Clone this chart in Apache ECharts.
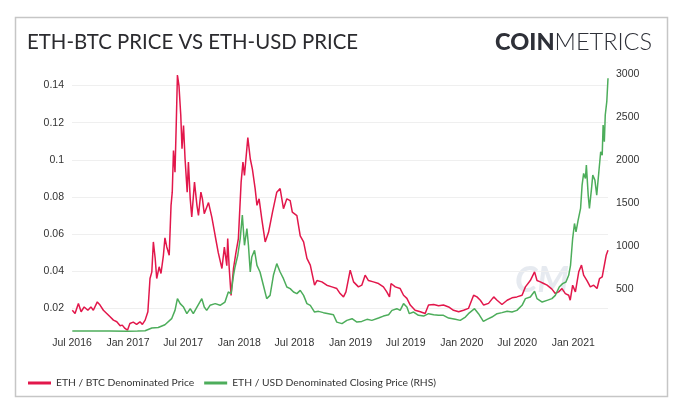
<!DOCTYPE html>
<html><head><meta charset="utf-8">
<script src="https://cdn.jsdelivr.net/npm/echarts@6/dist/echarts.min.js"></script>
<style>html,body{margin:0;padding:0;background:#fff}#c{width:680px;height:412px}</style>
</head><body><div id="c"></div>
<script>
// ETH / BTC denominated price (left axis)
const btcDates = ['2016-07-02','2016-07-11','2016-07-22','2016-07-31','2016-08-10','2016-08-22','2016-09-01','2016-09-09','2016-09-22','2016-10-01','2016-10-12','2016-10-23','2016-11-03','2016-11-14','2016-11-25','2016-12-06','2016-12-13','2016-12-22','2016-12-30','2017-01-07','2017-01-18','2017-01-29','2017-02-09','2017-02-17','2017-02-26','2017-03-07','2017-03-14','2017-03-20','2017-03-25','2017-03-31','2017-04-05','2017-04-13','2017-04-19','2017-04-27','2017-05-02','2017-05-08','2017-05-16','2017-05-22','2017-05-26','2017-05-30','2017-06-04','2017-06-08','2017-06-12','2017-06-17','2017-06-23','2017-06-27','2017-07-02','2017-07-07','2017-07-14','2017-07-18','2017-07-24','2017-07-29','2017-08-07','2017-08-15','2017-08-20','2017-08-28','2017-09-02','2017-09-08','2017-09-22','2017-10-03','2017-10-14','2017-10-24','2017-11-05','2017-11-13','2017-11-21','2017-11-24','2017-11-29','2017-12-05','2017-12-13','2017-12-21','2017-12-29','2018-01-07','2018-01-13','2018-01-18','2018-01-29','2018-02-06','2018-02-13','2018-02-22','2018-02-28','2018-03-07','2018-03-16','2018-03-27','2018-04-07','2018-04-20','2018-05-04','2018-05-15','2018-05-26','2018-06-06','2018-06-17','2018-06-24','2018-07-09','2018-07-20','2018-07-31','2018-08-11','2018-08-22','2018-09-05','2018-09-13','2018-09-29','2018-10-15','2018-11-01','2018-11-17','2018-11-28','2018-12-09','2018-12-17','2018-12-31','2019-01-11','2019-01-27','2019-02-07','2019-02-18','2019-03-01','2019-03-17','2019-04-03','2019-04-19','2019-04-30','2019-05-09','2019-05-14','2019-05-28','2019-06-13','2019-06-24','2019-07-05','2019-07-16','2019-08-01','2019-08-18','2019-09-03','2019-09-14','2019-10-01','2019-10-17','2019-11-02','2019-11-19','2019-12-05','2019-12-22','2020-01-07','2020-01-23','2020-02-09','2020-02-20','2020-03-02','2020-03-13','2020-03-29','2020-04-15','2020-04-26','2020-05-12','2020-05-29','2020-06-14','2020-06-30','2020-07-17','2020-07-28','2020-08-13','2020-08-27','2020-09-04','2020-09-15','2020-09-26','2020-10-07','2020-10-23','2020-11-03','2020-11-14','2020-11-25','2020-12-06','2020-12-17','2020-12-22','2020-12-30','2021-01-08','2021-01-19','2021-01-28','2021-02-04','2021-02-15','2021-02-26','2021-03-09','2021-03-20','2021-03-28','2021-04-06','2021-04-11','2021-04-19','2021-04-25'];
const btcValues = [0.019,0.0173,0.0227,0.0182,0.0208,0.019,0.0208,0.019,0.0235,0.0218,0.019,0.0173,0.0155,0.0137,0.0128,0.0107,0.011,0.0092,0.0083,0.0119,0.0126,0.0114,0.0128,0.0114,0.0137,0.0182,0.0361,0.0397,0.0558,0.0469,0.0361,0.0424,0.0388,0.0486,0.058,0.0531,0.0486,0.0755,0.0826,0.105,0.0934,0.1185,0.1457,0.14,0.1239,0.106,0.1185,0.1006,0.0826,0.0988,0.079,0.0692,0.088,0.0755,0.0701,0.0826,0.079,0.071,0.077,0.069,0.059,0.050,0.0415,0.053,0.043,0.0576,0.0415,0.027,0.0415,0.050,0.0576,0.088,0.0988,0.0916,0.112,0.1006,0.095,0.0845,0.0755,0.079,0.068,0.0558,0.061,0.0719,0.0826,0.0845,0.0737,0.079,0.078,0.0719,0.070,0.059,0.0558,0.0469,0.0433,0.0325,0.035,0.0343,0.0325,0.0316,0.0307,0.028,0.0262,0.0289,0.0406,0.0343,0.0316,0.0325,0.0379,0.035,0.0343,0.0334,0.0316,0.0289,0.0262,0.0334,0.0316,0.0307,0.0271,0.0254,0.0218,0.019,0.0182,0.0173,0.0218,0.0221,0.0214,0.0218,0.0208,0.019,0.0182,0.019,0.020,0.0271,0.0262,0.0244,0.0218,0.0227,0.0262,0.0244,0.0221,0.0244,0.0257,0.0262,0.0271,0.0316,0.035,0.0397,0.035,0.0343,0.0334,0.0325,0.0304,0.028,0.0289,0.0307,0.028,0.0271,0.0244,0.0325,0.0289,0.0397,0.0433,0.0379,0.035,0.0316,0.0325,0.0307,0.036,0.037,0.0415,0.0486,0.0513];

// ETH / USD denominated closing price (right axis)
const usdDates = ['2016-07-02','2016-09-01','2016-11-01','2016-12-30','2017-02-01','2017-02-26','2017-03-20','2017-04-10','2017-05-02','2017-05-24','2017-06-04','2017-06-12','2017-06-21','2017-07-02','2017-07-13','2017-07-24','2017-08-03','2017-08-15','2017-08-31','2017-09-08','2017-09-16','2017-09-27','2017-10-14','2017-10-30','2017-11-15','2017-11-26','2017-12-05','2017-12-13','2017-12-18','2017-12-27','2018-01-04','2018-01-11','2018-01-18','2018-01-26','2018-01-31','2018-02-06','2018-02-11','2018-02-20','2018-02-28','2018-03-10','2018-03-21','2018-04-01','2018-04-12','2018-04-23','2018-05-04','2018-05-15','2018-05-26','2018-06-06','2018-06-17','2018-06-28','2018-07-09','2018-07-20','2018-07-31','2018-08-11','2018-08-22','2018-09-05','2018-09-18','2018-10-04','2018-10-21','2018-11-06','2018-11-17','2018-12-04','2018-12-20','2019-01-06','2019-01-22','2019-02-07','2019-02-24','2019-03-12','2019-04-03','2019-04-19','2019-05-06','2019-05-17','2019-06-02','2019-06-13','2019-06-24','2019-07-05','2019-07-13','2019-07-27','2019-08-12','2019-08-29','2019-09-14','2019-10-01','2019-10-17','2019-11-02','2019-11-19','2019-12-11','2019-12-27','2020-01-13','2020-01-23','2020-02-12','2020-02-25','2020-03-12','2020-03-24','2020-04-09','2020-04-26','2020-05-12','2020-05-29','2020-06-14','2020-06-30','2020-07-17','2020-07-28','2020-08-13','2020-08-27','2020-09-04','2020-09-21','2020-10-07','2020-10-23','2020-11-03','2020-11-16','2020-11-27','2020-12-08','2020-12-17','2020-12-23','2020-12-30','2021-01-05','2021-01-10','2021-01-17','2021-01-25','2021-01-30','2021-02-04','2021-02-10','2021-02-13','2021-02-19','2021-02-23','2021-03-02','2021-03-06','2021-03-13','2021-03-19','2021-03-26','2021-04-01','2021-04-06','2021-04-09','2021-04-13','2021-04-16','2021-04-21','2021-04-25'];
const usdValues = [12,12,11,8,11,15,46,53,85,155,251,388,330,290,213,271,213,290,388,290,251,310,330,310,348,465,446,659,756,892,1086,1358,1008,1203,1008,697,872,950,775,697,543,388,426,659,795,697,620,523,504,465,446,484,426,330,310,232,240,225,213,201,115,97,135,155,115,123,147,135,162,185,201,251,271,251,330,290,213,232,194,185,213,201,194,194,162,147,135,174,213,271,213,123,147,174,213,225,240,232,251,310,388,406,473,388,348,368,388,426,523,562,581,659,775,1086,1261,1163,1300,1436,1707,1843,1785,1940,1591,1436,1669,1824,1765,1591,1862,2095,2056,2406,2211,2522,2677,2950];

const seriesNames = ['ETH / BTC Denominated Price', 'ETH / USD Denominated Closing Price (RHS)'];
const seriesColors = ['#e2174b', '#4dad5b'];
const monthNames = ['Jan','Feb','Mar','Apr','May','Jun','Jul','Aug','Sep','Oct','Nov','Dec'];
const rightTicks = [500, 1000, 1500, 2000, 2500, 3000];

const chart = echarts.init(document.getElementById('c'));
const zip = (d, v) => d.map((x, i) => [x, v[i]]);

chart.setOption({
  animation: false,
  backgroundColor: '#ffffff',
  title: [
    {text: 'ETH-BTC PRICE VS ETH-USD PRICE', left: 22, top: 27,
     textStyle: {fontFamily: 'Lato', fontSize: 20.4, fontWeight: 'normal', color: '#2b2b2f'}},
    {text: '{b|COIN}{l|METRICS}', right: 23, top: 25,
     textStyle: {rich: {
       b: {fontFamily: 'Lato', fontSize: 23.5, fontWeight: 900, color: '#2e3038'},
       l: {fontFamily: 'Lato', fontSize: 23.5, fontWeight: 300, color: '#2e3038'}
     }}}
  ],
  graphic: [
    {type: 'rect', silent: true, z: -10,
     shape: {x: 15.5, y: 17.5, width: 652, height: 379},
     style: {fill: 'none', stroke: '#c6c6c6', lineWidth: 1.5}},
    {type: 'text', silent: true, z: -5, left: 515, top: 262,
     style: {text: 'CM', font: 'italic bold 36px Lato', fill: 'rgba(200,208,222,0.45)'}}
  ],
  legend: {
    left: 23, top: 373, icon: 'rect', itemWidth: 23, itemHeight: 3, itemGap: 10,
    textStyle: {fontFamily: 'Lato', fontSize: 10.3, color: '#333'},
    data: seriesNames
  },
  grid: {left: 72, right: 72, top: 67, bottom: 80},
  xAxis: {
    type: 'time', min: '2016-07-01', max: '2021-04-25', splitNumber: 10,
    axisLine: {show: false}, axisTick: {show: false}, splitLine: {show: false},
    axisLabel: {
      margin: 6, color: '#333', fontSize: 10.5, fontFamily: 'Liberation Sans',
      hideOverlap: false, showMinLabel: true, showMaxLabel: false,
      formatter: function (v) {
        const d = new Date(v);
        if (d.getDate() !== 1 || (d.getMonth() !== 0 && d.getMonth() !== 6)) return '';
        return monthNames[d.getMonth()] + ' ' + d.getFullYear();
      }
    }
  },
  yAxis: [
    {type: 'value', position: 'left', min: 0.0073, max: 0.15, splitNumber: 7,
     axisLine: {show: false}, axisTick: {show: false},
     splitLine: {show: true, showMinLine: false, showMaxLine: false, lineStyle: {color: '#efefef', width: 1}},
     axisLabel: {margin: 8, color: '#333', fontSize: 10.5, fontFamily: 'Liberation Sans',
       showMinLabel: false, showMaxLabel: false,
       formatter: function (v) {
         const k = v / 0.02;
         if (Math.abs(k - Math.round(k)) > 1e-6 || Math.round(k) < 1) return '';
         return String(parseFloat(v.toFixed(3)));
       }}},
    {type: 'value', position: 'right', min: 0, max: 3080, interval: 500,
     axisLine: {show: false}, axisTick: {show: false}, splitLine: {show: false},
     axisLabel: {margin: 8, color: '#333', fontSize: 10.5, fontFamily: 'Liberation Sans',
       showMinLabel: false, showMaxLabel: false,
       formatter: function (v) { return rightTicks.indexOf(v) >= 0 ? String(v) : ''; }}}
  ],
  series: [
    {name: seriesNames[0], type: 'line', yAxisIndex: 0, showSymbol: false, symbol: 'none',
     color: seriesColors[0], lineStyle: {width: 1.5, color: seriesColors[0]},
     data: zip(btcDates, btcValues)},
    {name: seriesNames[1], type: 'line', yAxisIndex: 1, showSymbol: false, symbol: 'none',
     color: seriesColors[1], lineStyle: {width: 1.5, color: seriesColors[1]},
     data: zip(usdDates, usdValues)}
  ]
});
</script></body></html>
